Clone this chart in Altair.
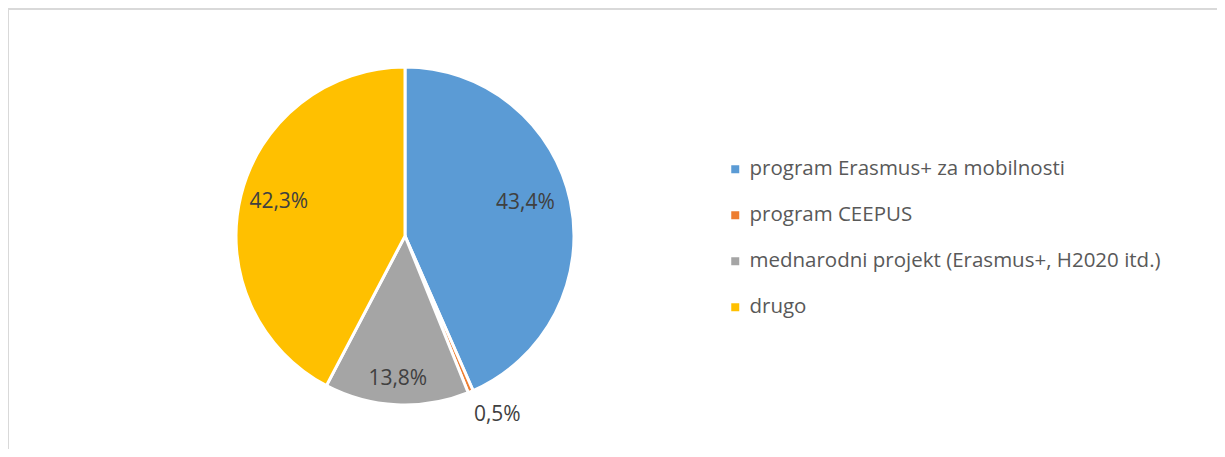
import altair as alt
import pandas as pd

categories = ["program Erasmus+ za mobilnosti", "program CEEPUS",
              "mednarodni projekt (Erasmus+, H2020 itd.)", "drugo"]
values = [43.4, 0.5, 13.8, 42.3]
colors = ["#5B9BD5", "#ED7D31", "#A5A5A5", "#FFC000"]
order = [0, 1, 2, 3]

df = pd.DataFrame({"cat": categories, "value": values, "idx": order})

CX, CY, R = 397, 228, 169
FONT = "Open Sans"

base = alt.Chart(df).transform_calculate(
    label="replace(format(datum.value, '.1f'), '.', ',') + '%'"
)

color = alt.Color("cat:N", scale=alt.Scale(domain=categories, range=colors),
                  legend=alt.Legend(title=None, orient="none", legendX=717, legendY=151,
                                    padding=0, symbolType="square", symbolSize=64,
                                    symbolStrokeWidth=0, symbolOffset=0,
                                    labelFont=FONT, labelFontSize=20.5, labelColor="#595959",
                                    rowPadding=25, labelOffset=4, labelLimit=700))

pie = base.mark_arc(outerRadius=R, stroke="white", strokeWidth=3).encode(
    theta=alt.Theta("value:Q", stack=True),
    color=color,
    order=alt.Order("idx:Q"),
    x=alt.value(CX), y=alt.value(CY),
)


def label_layer(i, radius, dx=0, dy=0):
    return base.mark_text(
        radius=radius, dx=dx, dy=dy, font=FONT, fontSize=21, color="#404040"
    ).encode(
        theta=alt.Theta("value:Q", stack=True),
        order=alt.Order("idx:Q"),
        text=alt.condition(f"datum.idx == {i}", "label:N", alt.value("")),
        x=alt.value(CX), y=alt.value(CY),
    )


labels = [
    label_layer(0, 124, dx=-1, dy=-7),
    label_layer(1, 199, dx=15, dy=-4),
    label_layer(2, 143),
    label_layer(3, 131, dx=1, dy=-3),
]

frame = pd.DataFrame({"a": [0]})
left = alt.Chart(frame).mark_rule(color="#D9D9D9", strokeWidth=2).encode(
    x=alt.value(0), y=alt.value(1), y2=alt.value(441))
top = alt.Chart(frame).mark_rule(color="#D9D9D9", strokeWidth=2).encode(
    x=alt.value(0), x2=alt.value(1209), y=alt.value(1))

chart = alt.layer(pie, *labels, left, top).properties(
    width=1209, height=441, padding=0, autosize=alt.AutoSizeParams(type="none")
).configure_view(stroke=None).configure(background="white")

chart.save("out.html", embed_options={"renderer": "svg", "actions": False})
